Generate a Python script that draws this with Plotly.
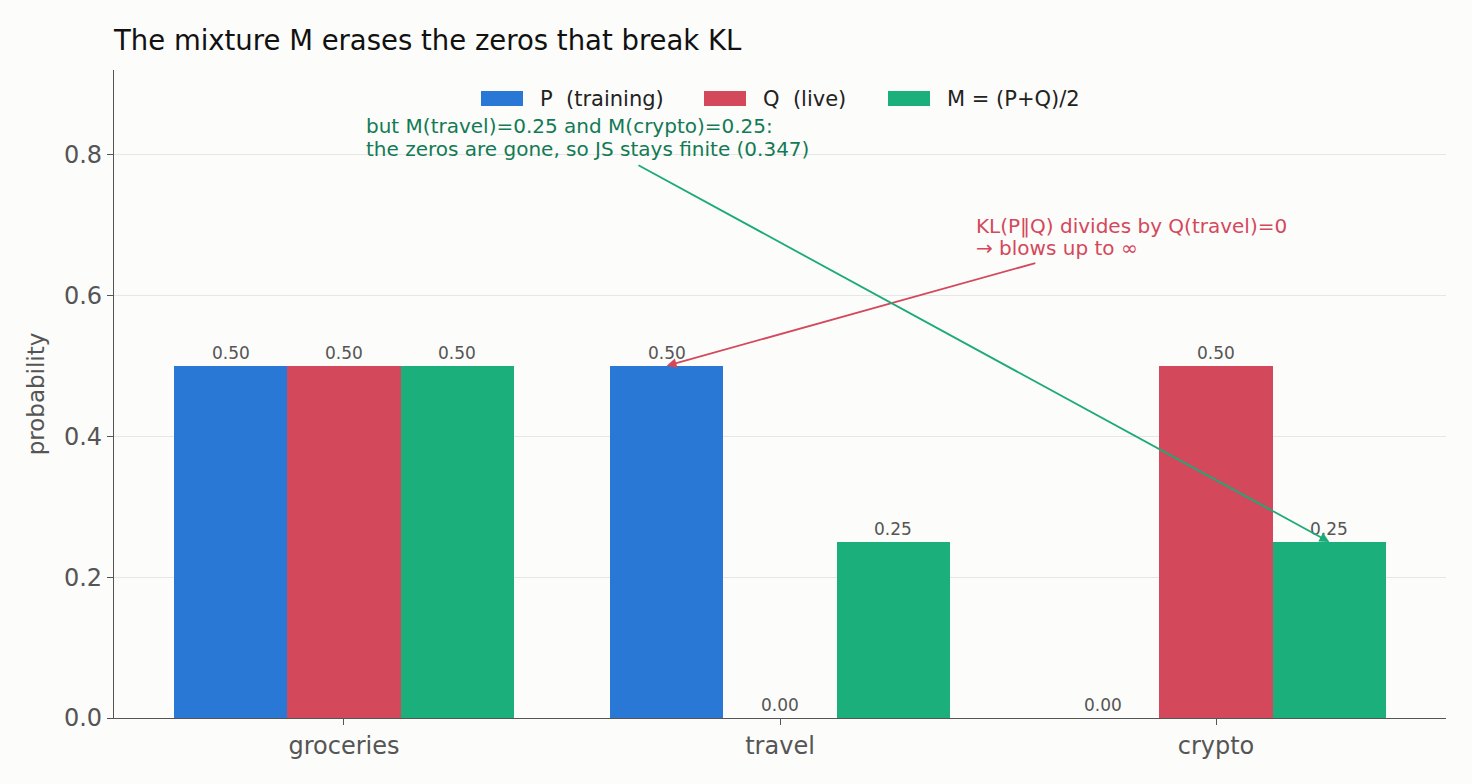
import plotly.graph_objects as go

categories = ["groceries", "travel", "crypto"]
p_training = [0.50, 0.50, 0.00]
q_live = [0.50, 0.00, 0.50]
m_mix = [0.50, 0.25, 0.25]

series_names = ["P  (training)", "Q  (live)", "M = (P+Q)/2"]
series_values = [p_training, q_live, m_mix]
series_colors = ["#2A78D6", "#D4485C", "#1BB07B"]
offsets = [-0.26, 0.0, 0.26]

BG = "#FCFCFA"
FONT = "DejaVu Sans"

# plot area in pixels
L, R, T, B = 114, 1446, 70, 718
W, H = R - L, B - T


def px_x(px):
    return (px - L) / W


def px_y(py):
    return (B - py) / H


fig = go.Figure()
annotations = []
shapes = []
for name, vals, color, off in zip(series_names, series_values, series_colors, offsets):
    xs = [i + off for i in range(len(categories))]
    fig.add_trace(go.Bar(
        x=xs, y=vals, width=0.26, name=name, showlegend=False,
        marker=dict(color=color, line=dict(width=0)),
    ))
    for x, v in zip(xs, vals):
        annotations.append(dict(
            x=x, y=v, xref="x", yref="y", text=f"{v:.2f}", showarrow=False,
            yanchor="bottom", yshift=1,
            font=dict(family=FONT, size=17, color="#555555"),
        ))

# manual legend (wide swatches like the reference)
legend_swatch_x = [481, 704, 888]
for name, color, sx in zip(series_names, series_colors, legend_swatch_x):
    shapes.append(dict(type="rect", xref="paper", yref="paper",
                       x0=px_x(sx), x1=px_x(sx + 42), y0=px_y(106), y1=px_y(91),
                       fillcolor=color, line=dict(width=0)))
    annotations.append(dict(x=px_x(sx + 57), y=px_y(99), xref="paper", yref="paper",
                            xanchor="left", yanchor="middle", showarrow=False,
                            text=name, font=dict(family=FONT, size=21, color="#222222")))

# KL arrow (red)
annotations.append(dict(
    x=1 - 0.26, y=p_training[1], xref="x", yref="y",
    ax=1.589, ay=0.6465, axref="x", ayref="y",
    text="", showarrow=True, arrowhead=2, arrowsize=1.1, arrowwidth=1.8,
    arrowcolor="#D4485C", standoff=0,
))
kl_lines = ["KL(P‖Q) divides by Q(travel)=0", "→ blows up to ∞"]
for line, yv in zip(kl_lines, [0.699, 0.668]):
    annotations.append(dict(
        x=1.445, y=yv, xref="x", yref="y", xanchor="left", yanchor="middle",
        showarrow=False, text=line,
        font=dict(family=FONT, size=20, color="#D4485C"),
    ))

# JS arrow (green)
annotations.append(dict(
    x=2 + 0.26, y=m_mix[2], xref="x", yref="y",
    ax=0.672, ay=0.786, axref="x", ayref="y",
    text="", showarrow=True, arrowhead=2, arrowsize=1.1, arrowwidth=1.8,
    arrowcolor="#1BAA78", standoff=0,
))
js_lines = ["but M(travel)=0.25 and M(crypto)=0.25:",
            "the zeros are gone, so JS stays finite (0.347)"]
for line, yv in zip(js_lines, [0.8398, 0.8085]):
    annotations.append(dict(
        x=0.046, y=yv, xref="x", yref="y", xanchor="left", yanchor="middle",
        showarrow=False, text=line,
        font=dict(family=FONT, size=20, color="#137A55"),
    ))

fig.update_layout(
    width=1472, height=784,
    paper_bgcolor=BG, plot_bgcolor=BG,
    margin=dict(l=L, r=1472 - R, t=T, b=784 - B),
    font=dict(family=FONT, color="#444444"),
    title=dict(text="The mixture M erases the zeros that break KL",
               x=L / 1472, xanchor="left", y=1 - 40 / 784, yanchor="middle",
               font=dict(family=FONT, size=27.5, color="#111111")),
    showlegend=False,
    bargap=0,
    annotations=annotations,
    shapes=shapes,
    xaxis=dict(
        range=[-0.5275, 2.5275], tickmode="array",
        tickvals=list(range(len(categories))), ticktext=categories,
        showgrid=False, zeroline=False, showline=True, linecolor="#555555", linewidth=1.2,
        ticks="outside", ticklen=6, tickcolor="#555555",
        tickfont=dict(family=FONT, size=24, color="#555555"),
    ),
    yaxis=dict(
        range=[0, 0.92], tickmode="array", tickvals=[0, 0.2, 0.4, 0.6, 0.8],
        ticktext=["0.0", "0.2", "0.4", "0.6", "0.8"],
        showgrid=True, gridcolor="#E6E6E6", gridwidth=1.2, zeroline=False,
        showline=True, linecolor="#555555", linewidth=1.2,
        ticks="outside", ticklen=6, tickcolor="#555555",
        tickfont=dict(family=FONT, size=24, color="#555555"),
        title=dict(text="probability", font=dict(family=FONT, size=23, color="#555555"), standoff=12),
    ),
)

fig.write_html("out.html")
